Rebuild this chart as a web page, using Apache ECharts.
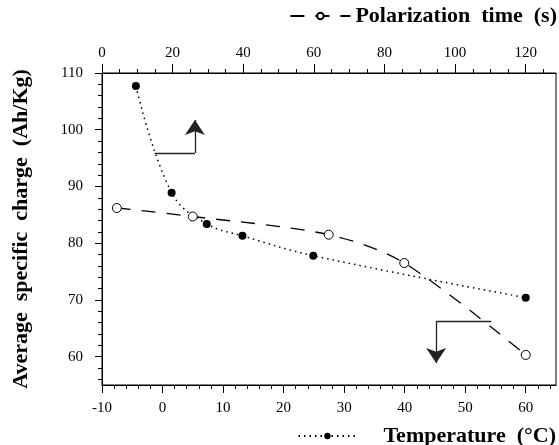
<!DOCTYPE html>
<html>
<head>
<meta charset="utf-8">
<script src="https://cdn.jsdelivr.net/npm/echarts@6/dist/echarts.min.js"></script>
<style>
  html, body { margin: 0; padding: 0; background: #fff; }
  #chart { width: 559px; height: 445px; }
</style>
</head>
<body>
<div id="chart"></div>
<script>
// temperature series (bottom axis), filled dots
const temperature = [-4.4, 1.5, 7.3, 13.2, 24.9, 60]
const chargeByTemp = [107.7, 88.9, 83.4, 81.3, 77.8, 70.4]

// polarization series (top axis), open circles
const polTime = [4.2, 25.7, 64.2, 85.6, 120]
const chargeByTime = [86.2, 84.7, 81.5, 76.5, 60.3]

// tick labels
const tempTicks = [-10, 0, 10, 20, 30, 40, 50, 60]
const tempMinor = [-8, -6, -4, -2, 2, 4, 6, 8, 12, 14, 16, 18, 22, 24, 26, 28, 32, 34, 36, 38, 42, 44, 46, 48, 52, 54, 56, 58, 62, 64]
const timeTicks = [0, 20, 40, 60, 80, 100, 120]
const timeMinor = [5, 10, 15, 25, 30, 35, 45, 50, 55, 65, 70, 75, 85, 90, 95, 105, 110, 115, 125]
const chargeTicks = [60, 70, 80, 90, 100, 110]
const chargeMinor = [56, 58, 62, 64, 66, 68, 72, 74, 76, 78, 82, 84, 86, 88, 92, 94, 96, 98, 102, 104, 106, 108]

// arrow annotations (temperature / charge units): start, corner, tip
const arrowUp = [[-1.3, 95.9], [5.35, 95.9], [5.35, 101.7]]
const arrowDown = [[54.3, 66.2], [45.2, 66.2], [45.2, 58.9]]

const FONT = 'Liberation Serif'
const tempName = 'Temperature  (°C)'
const timeName = 'Polarization  time  (s)'

const chart = echarts.init(document.getElementById('chart'))

const baseAxis = {
  type: 'value',
  splitLine: { show: false },
  axisLine: { show: true, onZero: false, lineStyle: { color: '#000', width: 1 } }
}

const minorAxis = (values, extra) => ({
  type: 'value',
  splitLine: { show: false },
  axisLine: { show: false, onZero: false },
  axisLabel: { show: false },
  axisTick: { show: true, length: 4, customValues: values, lineStyle: { color: '#000' } },
  ...extra
})

const arrows = [arrowUp, arrowDown]

const option = {
  backgroundColor: '#fff',
  animation: false,
  grid: {
    left: 102,
    right: 3,
    top: 73,
    bottom: 60,
    show: true,
    borderColor: '#000',
    borderWidth: 1
  },
  legend: [
    {
      data: [timeName],
      right: 2,
      top: 5,
      padding: 0,
      itemWidth: 60,
      itemHeight: 8,
      textStyle: { fontFamily: FONT, fontWeight: 'bold', fontSize: 22, color: '#000' }
    },
    {
      data: [tempName],
      right: 3,
      top: 425,
      padding: 0,
      itemWidth: 58,
      itemHeight: 8,
      textStyle: { fontFamily: FONT, fontWeight: 'bold', fontSize: 22, color: '#000', padding: [0, 0, 0, 22] }
    }
  ],
  xAxis: [
    {
      ...baseAxis,
      position: 'bottom',
      min: -10,
      max: 65,
      axisTick: { length: 8, customValues: tempTicks, lineStyle: { color: '#000' } },
      axisLabel: { customValues: tempTicks, margin: 16, fontFamily: FONT, fontSize: 15, color: '#000' }
    },
    {
      ...baseAxis,
      position: 'top',
      min: 0,
      max: 75 * 12 / 7,
      axisTick: { length: 9, customValues: timeTicks, lineStyle: { color: '#000' } },
      axisLabel: { customValues: timeTicks, margin: 12, fontFamily: FONT, fontSize: 15, color: '#000' }
    },
    minorAxis(tempMinor, { position: 'bottom', min: -10, max: 65 }),
    minorAxis(timeMinor, { position: 'top', min: 0, max: 75 * 12 / 7 })
  ],
  yAxis: [
    {
      ...baseAxis,
      position: 'left',
      min: 55,
      max: 110,
      name: 'Average  specific  charge  (Ah/Kg)',
      nameLocation: 'middle',
      nameGap: 70,
      nameTextStyle: { fontFamily: FONT, fontWeight: 'bold', fontSize: 22, color: '#000' },
      axisTick: { length: 7, customValues: chargeTicks, lineStyle: { color: '#000' } },
      axisLabel: { customValues: chargeTicks, margin: 19, fontFamily: FONT, fontSize: 15, color: '#000' }
    },
    minorAxis(chargeMinor, { position: 'left', min: 55, max: 110 })
  ],
  series: [
    {
      name: tempName,
      type: 'line',
      xAxisIndex: 0,
      yAxisIndex: 0,
      smooth: 0.4,
      symbol: 'circle',
      symbolSize: 8,
      itemStyle: { color: '#000' },
      lineStyle: { color: '#000', width: 1.5, type: [1.5, 4] },
      data: temperature.map((t, i) => [t, chargeByTemp[i]]),
      z: 3
    },
    {
      name: timeName,
      type: 'line',
      xAxisIndex: 1,
      yAxisIndex: 0,
      smooth: 0.3,
      symbol: 'circle',
      symbolSize: 9,
      itemStyle: { color: '#fff', borderColor: '#000', borderWidth: 1 },
      lineStyle: { color: '#000', width: 1.3, type: [14, 11] },
      data: polTime.map((t, i) => [t, chargeByTime[i]]),
      z: 3
    },
    {
      // horizontal legs of the arrows
      type: 'lines',
      coordinateSystem: 'cartesian2d',
      xAxisIndex: 0,
      yAxisIndex: 0,
      symbol: ['none', 'none'],
      lineStyle: { color: '#222', width: 1.3, opacity: 1 },
      data: arrows.map(a => ({ coords: [a[0], a[1]] })),
      silent: true
    },
    {
      // vertical legs with arrow heads
      type: 'lines',
      coordinateSystem: 'cartesian2d',
      xAxisIndex: 0,
      yAxisIndex: 0,
      symbol: ['none', 'arrow'],
      symbolSize: 15,
      lineStyle: { color: '#222', width: 1.3, opacity: 1 },
      data: arrows.map(a => ({ coords: [a[1], a[2]] })),
      silent: true
    }
  ]
}

chart.setOption(option)
</script>
</body>
</html>
